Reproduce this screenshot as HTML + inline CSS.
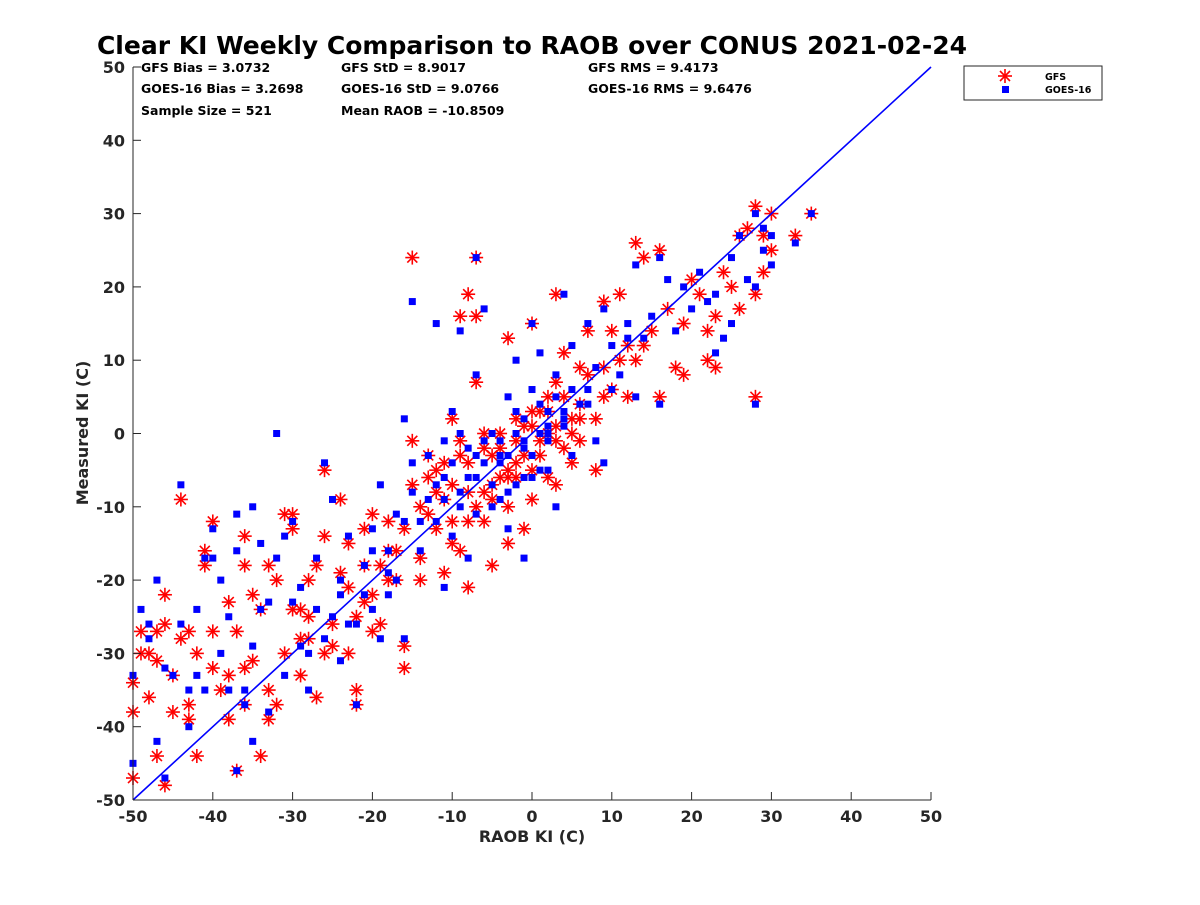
<!DOCTYPE html>
<html><head><meta charset="utf-8"><style>
body{margin:0;background:#fff;}
svg text{font-family:"DejaVu Sans","Liberation Sans",sans-serif;font-weight:bold;}
</style></head><body>
<svg id="chart" width="1200" height="900" xmlns="http://www.w3.org/2000/svg">
<rect width="1200" height="900" fill="#fff"/>
<text x="532" y="54" font-size="25" text-anchor="middle" fill="#000">Clear KI Weekly Comparison to RAOB over CONUS 2021-02-24</text>
<g font-size="12.5" fill="#000">
<text x="141" y="72">GFS Bias = 3.0732</text>
<text x="141" y="93">GOES-16 Bias = 3.2698</text>
<text x="141" y="115">Sample Size = 521</text>
<text x="341" y="72">GFS StD = 8.9017</text>
<text x="341" y="93">GOES-16 StD = 9.0766</text>
<text x="341" y="115">Mean RAOB = -10.8509</text>
<text x="588" y="72">GFS RMS = 9.4173</text>
<text x="588" y="93">GOES-16 RMS = 9.6476</text>
</g>
<g id="marks"></g>
<g id="axes"></g>
<text x="532" y="842" font-size="16" text-anchor="middle" fill="#262626">RAOB KI (C)</text>
<text transform="translate(88,433) rotate(-90)" font-size="16" text-anchor="middle" fill="#262626">Measured KI (C)</text>
<g>
<rect x="964" y="66" width="138" height="34" fill="#fff" stroke="#262626" stroke-width="1"/>
<g stroke="#f00" stroke-width="1.6">
<line x1="1005" y1="69" x2="1005" y2="83"/><line x1="998" y1="76" x2="1012" y2="76"/>
<line x1="1000" y1="71" x2="1010" y2="81"/><line x1="1000" y1="81" x2="1010" y2="71"/>
</g>
<rect x="1002" y="86" width="7" height="7" fill="#00f"/>
<text x="1045" y="80" font-size="9.5" fill="#000">GFS</text>
<text x="1045" y="93" font-size="9.5" fill="#000">GOES-16</text>
</g>
</svg>
<script>
const xTicks=[-50,-40,-30,-20,-10,0,10,20,30,40,50];
const yTicks=[-50,-40,-30,-20,-10,0,10,20,30,40,50];
const gfsX=[-50,-50,-50,-49,-49,-48,-47,-47,-46,-46,-46,-45,-44,-44,-43,-42,-43,-43,-42,-41,-41,-40,-40,-40,-39,-38,-38,-37,-37,-36,-36,-36,-36,-35,-34,-35,-34,-33,-33,-33,-32,-32,-31,-31,-30,-30,-29,-29,-29,-28,-28,-27,-27,-26,-26,-25,-25,-24,-24,-23,-23,-23,-22,-22,-21,-21,-20,-20,-19,-19,-18,-18,-17,-16,-16,-16,-15,-15,-14,-14,-13,-12,-12,-11,-11,-10,-10,-9,-9,-9,-8,-8,-7,-7,-7,-6,-6,-5,-5,-4,-4,-3,-3,-3,-2,-2,-1,-1,0,0,0,1,1,2,2,3,3,3,4,4,5,5,6,6,7,7,8,8,9,9,10,10,11,12,12,13,13,14,15,16,16,17,18,19,19,20,21,22,22,23,23,24,25,26,26,27,28,28,28,29,29,30,30,33,35,-14,-13,-8,-6,-2,0,2,-18,-20,-22,-26,-28,-30,-38,-45,-48,-47,
-12,-11,-10,-9,-8,-7,-6,-5,-4,-3,-2,-1,1,2,3,4,5,6,-13,-10,-8,-5,-3,0,3,6,9,11,14,-15,-17,-21];
const gfsY=[-47,-38,-34,-27,-30,-30,-27,-44,-48,-26,-22,-33,-9,-28,-27,-30,-37,-39,-44,-16,-18,-12,-27,-32,-35,-39,-33,-27,-46,-37,-32,-14,-18,-31,-44,-22,-24,-35,-39,-18,-20,-37,-30,-11,-24,-13,-24,-28,-33,-20,-25,-36,-18,-5,-14,-26,-29,-9,-19,-15,-21,-30,-35,-37,-23,-13,-22,-27,-26,-18,-12,-20,-20,-13,-29,-32,24,-1,-10,-20,-6,-13,-8,-4,-19,-12,2,16,-3,-16,19,-21,24,7,16,-12,-8,-3,-18,-6,0,13,-15,-10,-1,-6,1,-13,15,-9,-5,3,-3,0,5,-7,7,19,-2,11,2,-4,4,-1,8,14,2,-5,18,9,14,6,19,12,5,26,10,24,14,25,5,17,9,8,15,21,19,10,14,9,16,22,20,27,17,28,31,19,5,27,22,30,25,27,30,-17,-3,-8,-2,-4,3,-6,-16,-11,-25,-30,-28,-11,-23,-38,-36,-31,
-5,-9,-7,-1,-4,-10,0,-7,-2,-6,2,-3,-1,3,1,5,0,9,-11,-15,-12,-9,-5,1,-1,2,5,10,12,-7,-16,-18];
const goesX=[-50,-50,-49,-48,-48,-47,-47,-46,-46,-44,-44,-43,-43,-42,-41,-41,-40,-40,-39,-39,-38,-38,-37,-37,-37,-36,-36,-35,-35,-34,-34,-33,-33,-32,-32,-31,-31,-30,-30,-29,-29,-28,-28,-27,-26,-26,-25,-25,-24,-24,-23,-22,-22,-21,-20,-20,-19,-18,-18,-17,-17,-16,-16,-15,-15,-14,-13,-13,-12,-12,-11,-11,-10,-10,-9,-9,-8,-8,-7,-7,-6,-6,-5,-5,-4,-4,-3,-3,-2,-2,-1,-1,0,0,0,1,1,2,2,3,3,4,4,5,5,6,7,7,8,8,9,9,10,11,12,13,13,14,15,16,16,17,18,19,20,21,22,23,23,24,25,25,26,27,28,28,28,29,29,30,30,33,35,-19,-21,-15,-9,-7,-2,1,-23,-27,-35,-45,-42,-11,-7,-3,-1,2,
-12,-10,-9,-8,-6,-5,-4,-3,-2,-1,0,1,2,3,4,5,-14,-11,-7,-4,-1,2,4,7,10,12,-16,-18,-20,-24];
const goesY=[-33,-45,-24,-26,-28,-42,-20,-47,-32,-7,-26,-35,-40,-24,-17,-35,-13,-17,-30,-20,-35,-25,-11,-46,-16,-35,-37,-42,-29,-15,-24,-38,-23,-17,0,-33,-14,-23,-12,-29,-21,-30,-35,-17,-4,-28,-9,-25,-31,-20,-14,-26,-37,-18,-24,-13,-28,-16,-22,-11,-20,2,-28,18,-8,-16,-9,-3,15,-12,-21,-6,3,-14,14,-8,-2,-17,24,8,17,-4,-10,0,-1,-9,-13,5,10,-7,2,-17,15,-3,6,11,-5,3,-1,-10,8,19,1,-3,12,4,6,15,9,-1,17,-4,12,8,15,23,5,13,16,24,4,21,14,20,17,22,18,11,19,13,24,15,27,21,20,4,30,25,28,27,23,26,30,-7,-22,-4,0,-11,3,0,-26,-24,-10,-33,-33,-1,-3,-3,-6,-5,
-7,-4,-10,-6,-1,-7,-4,-8,0,-2,-6,4,1,5,3,6,-12,-9,-6,-3,-1,0,2,4,6,13,-12,-19,-16,-22];

const NS='http://www.w3.org/2000/svg';
const X0=133,X1=931,Y0=800,Y1=67;
function sx(v){return X0+(v+50)/100*(X1-X0);}
function sy(v){return Y0-(v+50)/100*(Y0-Y1);}
function mk(t,a,p){const e=document.createElementNS(NS,t);for(const k in a)e.setAttribute(k,a[k]);p.appendChild(e);return e;}
const marks=document.getElementById('marks'),axes=document.getElementById('axes');
for(let i=0;i<gfsX.length;i++){
  const cx=sx(gfsX[i]),cy=sy(gfsY[i]);
  const g=mk('g',{stroke:'#f00','stroke-width':1.6},marks);
  
  
  mk('line',{x1:cx,y1:cy-7,x2:cx,y2:cy+7},g);
  mk('line',{x1:cx-7,y1:cy,x2:cx+7,y2:cy},g);
  mk('line',{x1:cx-5,y1:cy-5,x2:cx+5,y2:cy+5},g);
  mk('line',{x1:cx-5,y1:cy+5,x2:cx+5,y2:cy-5},g);
}
for(let i=0;i<goesX.length;i++){
  const r=mk('rect',{x:sx(goesX[i])-3.5,y:sy(goesY[i])-3.5,width:7,height:7,fill:'#00f'},marks);
  
  
}
const ln=mk('line',{x1:sx(-50),y1:sy(-50),x2:sx(50),y2:sy(50),stroke:'#00f','stroke-width':1.6},marks);


const xa=mk('line',{x1:X0,y1:Y0,x2:X1,y2:Y0,stroke:'#262626','stroke-width':1},axes);


const ya=mk('line',{x1:X0,y1:Y0,x2:X0,y2:Y1,stroke:'#262626','stroke-width':1},axes);


xTicks.forEach(v=>{
  const x=sx(v);
  mk('line',{x1:x,y1:Y0,x2:x,y2:Y0-8,stroke:'#262626'},axes);
  const t=mk('text',{x:x,y:Y0+22,'font-size':16,'text-anchor':'middle',fill:'#262626'},axes);
  
  
  t.textContent=v;
});
yTicks.forEach(v=>{
  const y=sy(v);
  mk('line',{x1:X0,y1:y,x2:X0+8,y2:y,stroke:'#262626'},axes);
  const t=mk('text',{x:X0-8,y:y+6,'font-size':16,'text-anchor':'end',fill:'#262626'},axes);
  
  
  t.textContent=v;
});
</script>
</body></html>
